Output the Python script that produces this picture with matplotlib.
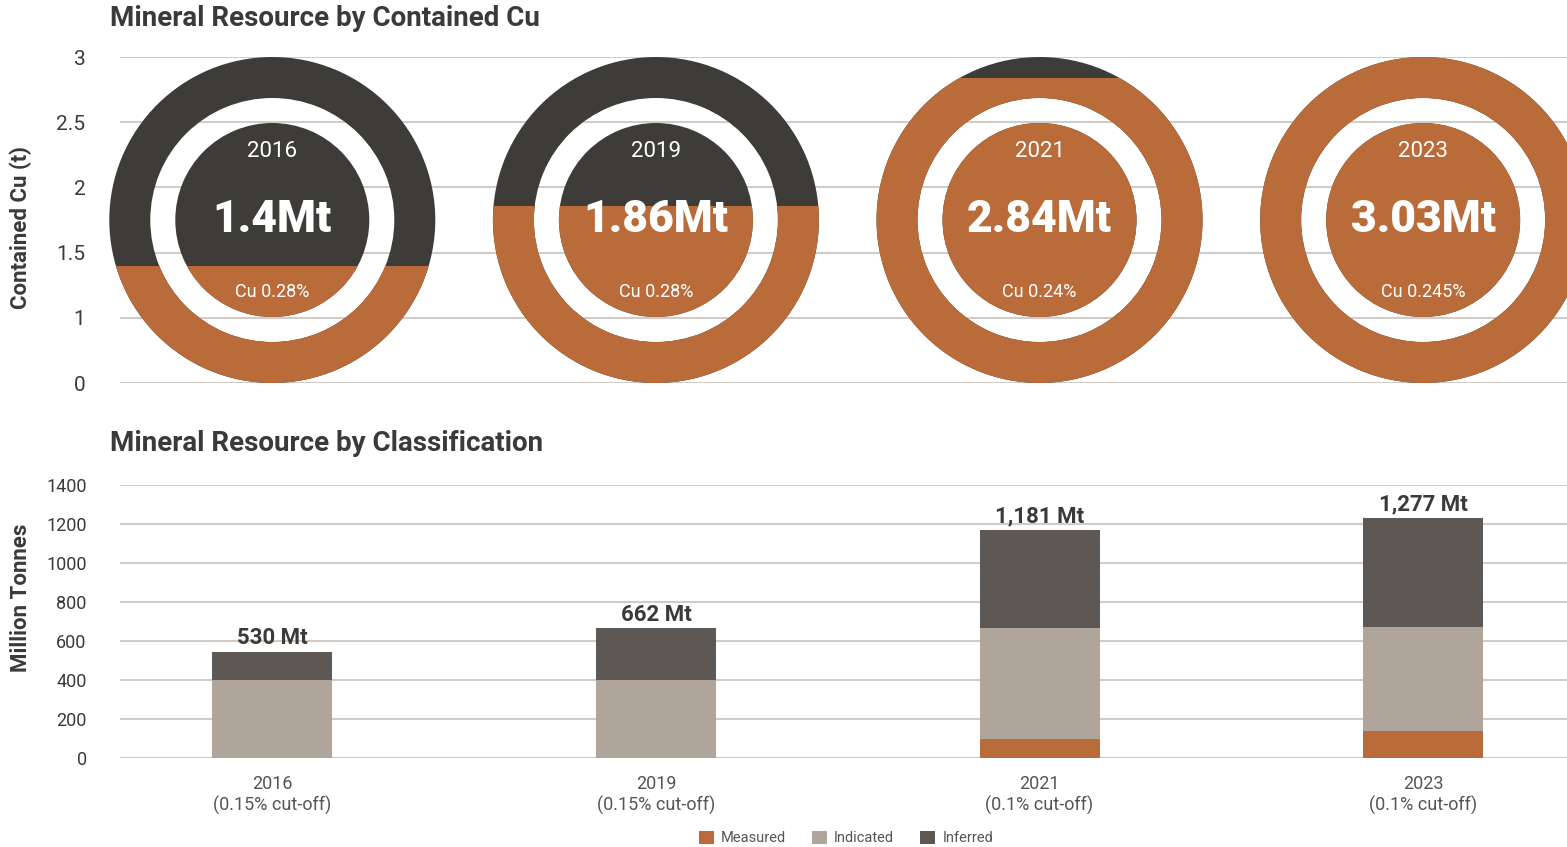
import numpy as np
import matplotlib
matplotlib.use('Agg')
import matplotlib.pyplot as plt
from matplotlib.patches import Wedge, Rectangle, Patch
from matplotlib.transforms import Affine2D

plt.rcParams['font.family'] = ['Roboto', 'DejaVu Sans']

# --- data ---
years = ['2016', '2019', '2021', '2023']
cutoffs = ['(0.15% cut-off)', '(0.15% cut-off)', '(0.1% cut-off)', '(0.1% cut-off)']
contained_cu = [1.4, 1.86, 2.84, 3.03]          # Mt Cu
cu_labels = ['1.4Mt', '1.86Mt', '2.84Mt', '3.03Mt']
grade_labels = ['Cu 0.28%', 'Cu 0.28%', 'Cu 0.24%', 'Cu 0.245%']
cu_ticks = [0, 1, 1.5, 2, 2.5, 3]

measured = [0, 0, 100, 140]
indicated = [400, 400, 565, 530]
inferred = [145, 265, 505, 560]
total_labels = ['530 Mt', '662 Mt', '1,181 Mt', '1,277 Mt']
mt_ticks = [0, 200, 400, 600, 800, 1000, 1200, 1400]

# colours
c_orange = '#b96b3a'
c_dark = '#3e3c38'
c_ind = '#afa59b'
c_inf = '#5e5854'
c_grid = '#d3cbc5'
c_text = '#3a3a3a'


def cu_pos(v):
    # the contained Cu axis is not linear: 0-1 is one step, then 0.5 steps
    v = np.asarray(v, dtype=float)
    return np.where(v <= 1, v, 1 + 2 * (v - 1))


W, H = 1567, 847
fig = plt.figure(figsize=(W / 100, H / 100), dpi=100)

xlim = (-0.397, 3.375)
x = np.arange(len(years))

# --- top panel: contained Cu circles ---
ax1 = fig.add_axes([120 / W, 1 - 383 / H, 1447 / W, 326 / H])
ax1.set_xlim(*xlim)
ax1.set_ylim(0, 5)
px_x = 1447 / (xlim[1] - xlim[0])
px_y = 326 / 5.0

for t in cu_pos(cu_ticks):
    ax1.axhline(t, color=c_grid, lw=1.5, zorder=0)

r_out, r_gap, r_in = 163, 122, 97
for i in range(len(years)):
    tr = Affine2D().scale(1 / px_x, 1 / px_y).translate(x[i], 2.5) + ax1.transData
    level = min(float(cu_pos(contained_cu[i])), 5.0)
    for color, clipped in [(c_dark, False), (c_orange, True)]:
        ring = Wedge((0, 0), r_out, 0, 360, width=r_out - r_gap,
                     facecolor=color, edgecolor='none', transform=tr, zorder=2)
        disk = Wedge((0, 0), r_in, 0, 360, facecolor=color, edgecolor='none',
                     transform=tr, zorder=2)
        for p in (ring, disk):
            ax1.add_patch(p)
            if clipped:
                # fill from the bottom up to the contained Cu level
                p.set_clip_path(Rectangle((x[i] - 1, -1), 2, level + 1,
                                          transform=ax1.transData))
                p.set_clip_on(True)
            else:
                p.set_clip_on(False)
    ax1.annotate(years[i], (x[i], 2.5), xytext=(0, 49), textcoords='offset points',
                 ha='center', va='center', color='white', fontsize=16, zorder=3)
    ax1.annotate(cu_labels[i], (x[i], 2.5), xytext=(0, 0), textcoords='offset points',
                 ha='center', va='center', color='white', fontsize=32,
                 fontweight='black', zorder=3)
    ax1.annotate(grade_labels[i], (x[i], 2.5), xytext=(0, -52), textcoords='offset points',
                 ha='center', va='center', color='white', fontsize=13, zorder=3)

ax1.set_yticks(cu_pos(cu_ticks))
ax1.set_yticklabels([f'{t:g}' for t in cu_ticks])
ax1.set_xticks([])
ax1.tick_params(axis='y', length=0, pad=25, labelsize=15, labelcolor=c_text)
for s in ax1.spines.values():
    s.set_visible(False)
ax1.set_ylabel('Contained Cu (t)', fontsize=16, fontweight='bold', color=c_text)
ax1.yaxis.set_label_coords(-88 / 1447, 0.477)
fig.text(110 / W, 1 - 18 / H, 'Mineral Resource by Contained Cu', fontsize=20,
         fontweight='bold', color=c_text, va='center', ha='left')

# --- bottom panel: classification bars ---
ax2 = fig.add_axes([120 / W, 1 - 758 / H, 1447 / W, 273 / H])
ax2.set_xlim(*xlim)
ax2.set_ylim(0, 1400)
for t in mt_ticks:
    ax2.axhline(t, color=c_grid, lw=1.5, zorder=0)

bw = 120 / px_x
meas = np.array(measured)
ind = np.array(indicated)
inf = np.array(inferred)
ax2.bar(x, meas, bw, color=c_orange, zorder=2, label='Measured')
ax2.bar(x, ind, bw, bottom=meas, color=c_ind, zorder=2, label='Indicated')
ax2.bar(x, inf, bw, bottom=meas + ind, color=c_inf, zorder=2, label='Inferred')
tops = meas + ind + inf
for i in range(len(years)):
    ax2.annotate(total_labels[i], (x[i], tops[i]), xytext=(0, 2), textcoords='offset points',
                 ha='center', va='bottom', fontsize=16, fontweight='bold', color=c_text)

ax2.set_yticks(mt_ticks)
ax2.set_xticks(x)
ax2.set_xticklabels([f'{y}\n{c}' for y, c in zip(years, cutoffs)], linespacing=1.2)
ax2.tick_params(axis='y', length=0, pad=24, labelsize=13, labelcolor=c_text)
ax2.tick_params(axis='x', length=0, pad=12, labelsize=13, labelcolor='#555555')
for s in ax2.spines.values():
    s.set_visible(False)
ax2.set_ylabel('Million Tonnes', fontsize=16, fontweight='bold', color=c_text)
ax2.yaxis.set_label_coords(-88 / 1447, 0.585)
fig.text(110 / W, 1 - 443 / H, 'Mineral Resource by Classification', fontsize=20,
         fontweight='bold', color=c_text, va='center', ha='left')

handles = [Patch(facecolor=c_orange), Patch(facecolor=c_ind), Patch(facecolor=c_inf)]
fig.legend(handles, ['Measured', 'Indicated', 'Inferred'], loc='center',
           bbox_to_anchor=(846 / W, 1 - 838 / H), ncol=3, frameon=False, fontsize=10.5,
           handlelength=1.0, handleheight=1.0, handletextpad=0.5, columnspacing=1.8,
           labelcolor='#555555')

fig.savefig('out.png', dpi=100, facecolor='white')
